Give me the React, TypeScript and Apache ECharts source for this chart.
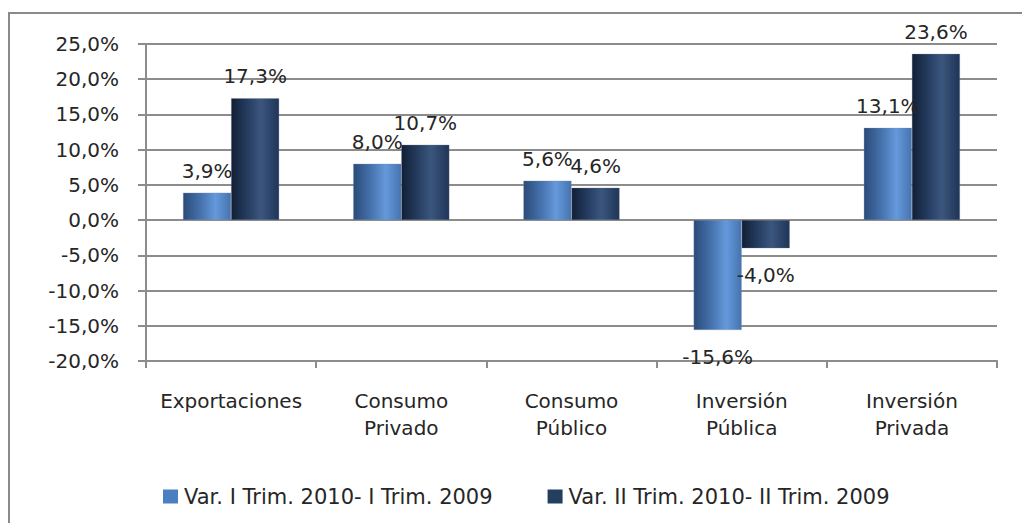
import React, { useEffect, useRef } from "react";
import * as echarts from "echarts";

const categories = [
  "Exportaciones",
  "Consumo\nPrivado",
  "Consumo\nPúblico",
  "Inversión\nPública",
  "Inversión\nPrivada",
];
const seriesNames = [
  "Var. I Trim. 2010- I Trim. 2009",
  "Var. II Trim. 2010- II Trim. 2009",
];
const seriesI = [3.9, 8.0, 5.6, -15.6, 13.1];
const seriesII = [17.3, 10.7, 4.6, -4.0, 23.6];
const yMin = -20;
const yMax = 25;
const yStep = 5;

const FONT = "DejaVu Sans";
const TEXT = "#262626";
const GRID = "#8c8c8c";

const fmt = (v: number) => v.toFixed(1).replace(".", ",") + "%";

const grad1 = new echarts.graphic.LinearGradient(0, 0, 1, 0, [
  { offset: 0, color: "#2b4b79" },
  { offset: 0.35, color: "#4470aa" },
  { offset: 0.68, color: "#6599dc" },
  { offset: 1, color: "#4673ae" },
]);
const grad2 = new echarts.graphic.LinearGradient(0, 0, 1, 0, [
  { offset: 0, color: "#111f35" },
  { offset: 0.35, color: "#263e62" },
  { offset: 0.62, color: "#3b567d" },
  { offset: 1, color: "#1f3558" },
]);

const mkData = (vals: number[]) =>
  vals.map((v) => ({
    value: v,
    label: {
      position: v < 0 ? "bottom" : "top",
      distance: v < 0 ? 17 : 12,
    },
  }));

export default function App() {
  const ref = useRef<HTMLDivElement>(null);
  useEffect(() => {
    if (!ref.current) return;
    const chart = echarts.init(ref.current, undefined, { renderer: "svg" });
    const labelCommon = {
      show: true,
      formatter: (p: any) => fmt(p.value),
      color: TEXT,
      fontFamily: FONT,
      fontSize: 20,
    };
    chart.setOption({
      animation: false,
      backgroundColor: "#ffffff",
      grid: { left: 146, right: 25, top: 44, bottom: 162, containLabel: false },
      legend: {
        left: 163,
        top: 486,
        padding: 0,
        itemWidth: 15,
        itemHeight: 14,
        itemGap: 55,
        icon: "rect",
        textStyle: { fontFamily: FONT, fontSize: 21, color: TEXT, padding: [0, 0, 0, 1] },
        data: [
          { name: seriesNames[0], itemStyle: { color: "#4a7fc0", borderWidth: 0 } },
          { name: seriesNames[1], itemStyle: { color: "#243e60", borderWidth: 0 } },
        ],
      },
      xAxis: [
        {
          type: "category",
          data: categories,
          position: "bottom",
          axisLine: { show: false },
          axisTick: { show: false },
          axisLabel: {
            interval: 0,
            margin: 26,
            fontFamily: FONT,
            fontSize: 20,
            color: TEXT,
            lineHeight: 27,
          },
        },
        {
          type: "category",
          data: categories,
          position: "bottom",
          axisLine: { show: true, onZero: true, lineStyle: { color: GRID, width: 2 } },
          axisTick: { show: true, interval: 0, length: 7, lineStyle: { color: GRID, width: 2 } },
          axisLabel: { show: false },
        },
      ],
      yAxis: {
        type: "value",
        min: yMin,
        max: yMax,
        interval: yStep,
        axisLine: { show: true, onZero: false, lineStyle: { color: GRID, width: 2 } },
        axisTick: { show: true, length: 8, lineStyle: { color: GRID, width: 2 } },
        splitLine: { show: true, lineStyle: { color: GRID, width: 2 } },
        axisLabel: {
          margin: 27,
          formatter: (v: number) => fmt(v),
          fontFamily: FONT,
          fontSize: 20,
          color: TEXT,
        },
      },
      series: [
        {
          name: seriesNames[0],
          type: "bar",
          xAxisIndex: 0,
          data: mkData(seriesI),
          barGap: "0%",
          barCategoryGap: "43.5%",
          itemStyle: { color: grad1, borderColor: "rgba(120,140,170,0.6)", borderWidth: 0.5 },
          label: labelCommon,
        },
        {
          name: seriesNames[1],
          type: "bar",
          xAxisIndex: 0,
          data: mkData(seriesII),
          barGap: "0%",
          barCategoryGap: "43.5%",
          itemStyle: { color: grad2, borderColor: "rgba(120,130,150,0.6)", borderWidth: 0.5 },
          label: labelCommon,
        },
      ],
      graphic: [
        {
          type: "polyline",
          shape: { points: [[9, 523], [9, 13], [1022, 13]] },
          style: { stroke: "#8a8a8a", lineWidth: 2, fill: "none" },
          silent: true,
        },
      ],
    });
    return () => chart.dispose();
  }, []);
  return (
    <div
      ref={ref}
      style={{ position: "fixed", left: 0, top: 0, width: 1022, height: 523 }}
    />
  );
}
